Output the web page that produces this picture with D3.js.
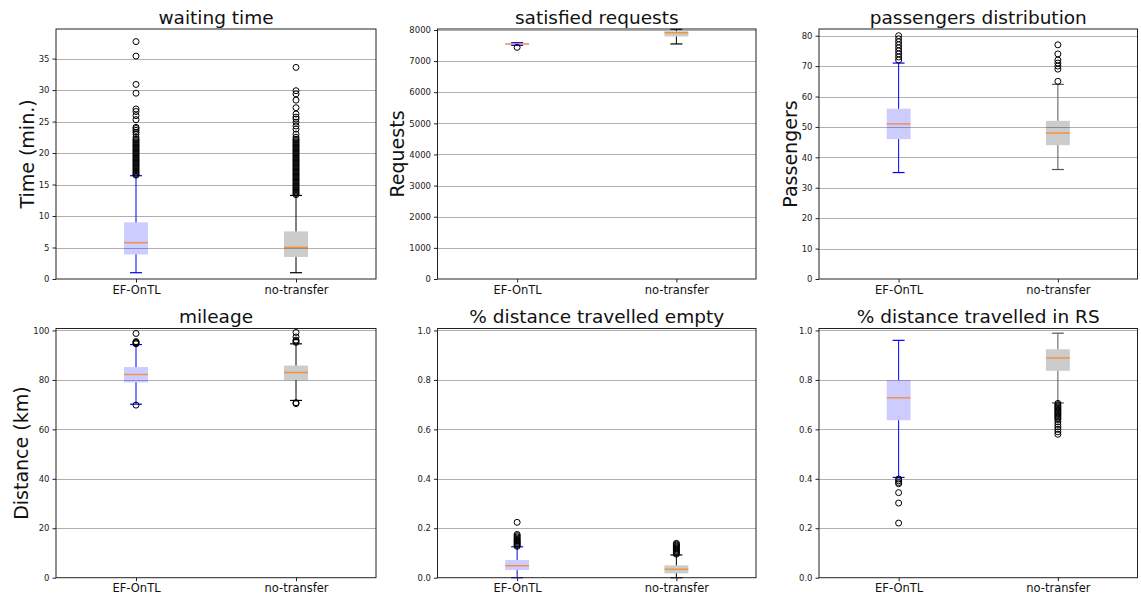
<!DOCTYPE html>
<html><head><meta charset="utf-8">
<script src="https://cdn.jsdelivr.net/npm/d3@7"></script>
<style>body{margin:0;background:#fff}svg{display:block;font-family:"DejaVu Sans",sans-serif}</style>
</head><body><svg id="c" width="1141" height="603"></svg>
<script>
const categories = ["EF-OnTL", "no-transfer"];
const titles = ["waiting time", "satisfied requests", "passengers distribution", "mileage", "% distance travelled empty", "% distance travelled in RS"];
const yLabels = ["Time (min.)", "Requests", "Passengers", "Distance (km)", "", ""];

// [whiskerLow, q1, median, q3, whiskerHigh]
const waitingEF = [1.0, 3.9, 5.77, 9.0, 16.4];
const waitingNT = [1.0, 3.5, 5.02, 7.56, 13.27];
const waitingEFOut = [16.5,16.6,16.8,17.0,17.2,17.4,17.6,17.8,18.0,18.2,18.4,18.6,18.8,19.0,19.2,19.4,19.6,19.8,20.0,20.2,20.4,20.6,20.8,21.0,21.2,21.4,21.6,21.8,22.0,22.2,22.5,23.0,23.3,23.6,23.9,24.1,25.3,25.95,26.6,27.0,29.5,30.9,35.4,37.7];
const waitingNTOut = [13.4,13.6,13.8,14.0,14.2,14.4,14.6,14.8,15.0,15.2,15.4,15.6,15.8,16.0,16.2,16.4,16.6,16.8,17.0,17.2,17.4,17.6,17.8,18.0,18.2,18.4,18.6,18.8,19.0,19.2,19.4,19.6,19.8,20.0,20.2,20.4,20.6,20.8,21.0,21.2,21.4,21.6,21.8,22.0,22.2,22.5,23.0,23.8,24.3,24.9,25.4,25.7,26.2,27.2,28.4,29.4,29.9,33.6];
const waitingTicks = [0,5,10,15,20,25,30,35];

const requestsEF = [7505, 7530, 7550, 7570, 7590];
const requestsNT = [7550, 7790, 7910, 7960, 8020];
const requestsEFOut = [7440];
const requestsNTOut = [];
const requestsTicks = [0,1000,2000,3000,4000,5000,6000,7000,8000];

const passengersEF = [35, 46, 51, 56, 71];
const passengersNT = [36, 44, 48, 52, 64];
const passengersEFOut = [72,73,74,75,76,77,78,79,80];
const passengersNTOut = [65,69,70,71,72,74,77];
const passengersTicks = [0,10,20,30,40,50,60,70,80];

const mileageEF = [70.2, 79.0, 82.2, 85.2, 94.3];
const mileageNT = [71.7, 79.9, 83.0, 85.8, 94.6];
const mileageEFOut = [69.8, 94.6, 94.9, 95.2, 95.5, 98.8];
const mileageNTOut = [70.4, 70.8, 95.2, 95.6, 96.1, 97.4, 99.2];
const mileageTicks = [0,20,40,60,80,100];

const emptyEF = [0.0, 0.031, 0.0485, 0.0714, 0.125];
const emptyNT = [0.0, 0.0175, 0.034, 0.05, 0.092];
const emptyEFOut = [0.127,0.131,0.135,0.139,0.143,0.147,0.151,0.155,0.160,0.165,0.170,0.175,0.224];
const emptyNTOut = [0.095,0.099,0.103,0.107,0.111,0.115,0.119,0.123,0.127,0.131,0.135,0.139];
const fracTicks = [0,0.2,0.4,0.6,0.8,1.0];

const rsEF = [0.4056, 0.637, 0.7276, 0.799, 0.96];
const rsNT = [0.707, 0.837, 0.889, 0.924, 0.989];
const rsEFOut = [0.399, 0.392, 0.385, 0.38, 0.344, 0.302, 0.221];
const rsNTOut = [0.705,0.70,0.695,0.69,0.685,0.68,0.675,0.67,0.665,0.66,0.655,0.65,0.645,0.64,0.63,0.62,0.61,0.60,0.59,0.58];

const panels = [
  {stats:[waitingEF, waitingNT], out:[waitingEFOut, waitingNTOut], ticks:waitingTicks, ymax:39.7, fmt:d3.format("d"), ntWhisker:"#000"},
  {stats:[requestsEF, requestsNT], out:[requestsEFOut, requestsNTOut], ticks:requestsTicks, ymax:8030, fmt:d3.format("d"), ntWhisker:"#000"},
  {stats:[passengersEF, passengersNT], out:[passengersEFOut, passengersNTOut], ticks:passengersTicks, ymax:82.2, fmt:d3.format("d"), ntWhisker:"#555"},
  {stats:[mileageEF, mileageNT], out:[mileageEFOut, mileageNTOut], ticks:mileageTicks, ymax:100.8, fmt:d3.format("d"), ntWhisker:"#000"},
  {stats:[emptyEF, emptyNT], out:[emptyEFOut, emptyNTOut], ticks:fracTicks, ymax:1.008, fmt:d3.format(".1f"), ntWhisker:"#000"},
  {stats:[rsEF, rsNT], out:[rsEFOut, rsNTOut], ticks:fracTicks, ymax:1.008, fmt:d3.format(".1f"), ntWhisker:"#555"}
];

const cols = [[56,376],[437.5,756],[819,1137.5]];
const rows = [[29,279],[328.5,577.7]];
const svg = d3.select("#c");

panels.forEach((p, i) => {
  const [x0, x1] = cols[i % 3];
  const [y0, y1] = rows[Math.floor(i / 3)];
  const g = svg.append("g");
  const x = d3.scalePoint().domain(categories).range([x0, x1]).padding(0.5);
  const y = d3.scaleLinear().domain([0, p.ymax]).range([y1, y0]);
  const bw = x.step() * 0.15;

  // grid
  g.selectAll(".grid").data(p.ticks.filter(t => t > 0)).enter().append("line")
    .attr("x1", x0).attr("x2", x1)
    .attr("y1", d => Math.round(y(d)) + 0.5).attr("y2", d => Math.round(y(d)) + 0.5)
    .attr("stroke", "#b0b0b0").attr("stroke-width", 1);

  categories.forEach((c, k) => {
    const s = p.stats[k];
    const cx = x(c);
    const wc = k === 0 ? "#0000ff" : p.ntWhisker;
    const bg = g.append("g");
    bg.append("rect").attr("x", cx - bw / 2).attr("width", bw)
      .attr("y", y(s[3])).attr("height", Math.max(1, y(s[1]) - y(s[3])))
      .attr("fill", k === 0 ? "#0000ff" : "#000").attr("fill-opacity", 0.2);
    bg.append("line").attr("x1", cx).attr("x2", cx).attr("y1", y(s[1])).attr("y2", y(s[0])).attr("stroke", wc);
    bg.append("line").attr("x1", cx).attr("x2", cx).attr("y1", y(s[3])).attr("y2", y(s[4])).attr("stroke", wc);
    [s[0], s[4]].forEach(v => {
      bg.append("line").attr("x1", cx - bw / 4).attr("x2", cx + bw / 4)
        .attr("y1", y(v)).attr("y2", y(v)).attr("stroke", wc).attr("stroke-width", 1.2);
    });
    bg.append("line").attr("x1", cx - bw / 2).attr("x2", cx + bw / 2)
      .attr("y1", y(s[2])).attr("y2", y(s[2]))
      .attr("stroke", "#ff7f0e").attr("stroke-opacity", 0.75).attr("stroke-width", 1.5);
    bg.selectAll("circle").data(p.out[k]).enter().append("circle")
      .attr("cx", cx).attr("cy", d => y(d)).attr("r", 3)
      .attr("fill", "none").attr("stroke", "#000").attr("stroke-width", 1);
  });

  // axes
  const ya = g.append("g").attr("transform", `translate(${x0},0)`)
    .call(d3.axisLeft(y).tickValues(p.ticks).tickFormat(p.fmt).tickSize(3.5).tickPadding(3));
  ya.select(".domain").remove();
  ya.selectAll("text").attr("font-size", 8.5).attr("fill", "#222").attr("font-family", "DejaVu Sans");
  ya.selectAll("line").attr("stroke", "#222");
  const xa = g.append("g").attr("transform", `translate(0,${y1})`)
    .call(d3.axisBottom(x).tickSize(3.5).tickPadding(3));
  xa.select(".domain").remove();
  xa.selectAll("text").attr("font-size", 11.5).attr("fill", "#111").attr("font-family", "DejaVu Sans");
  xa.selectAll("line").attr("stroke", "#222");

  // spines
  g.append("rect").attr("x", x0).attr("y", y0).attr("width", x1 - x0).attr("height", y1 - y0)
    .attr("fill", "none").attr("stroke", "#222").attr("stroke-width", 1);

  // title
  g.append("text").attr("x", (x0 + x1) / 2).attr("y", y0 - 5.5)
    .attr("text-anchor", "middle").attr("font-size", 18.5).attr("fill", "#111").text(titles[i]);

  // y label
  if (yLabels[i]) {
    let maxW = 0;
    ya.selectAll("text").each(function () { maxW = Math.max(maxW, this.getBBox().width); });
    const lx = x0 - 3.5 - 3 - maxW - 5;
    g.append("text").attr("transform", `translate(${lx},${(y0 + y1) / 2}) rotate(-90)`)
      .attr("text-anchor", "middle").attr("font-size", 19).attr("fill", "#111").text(yLabels[i]);
  }
});
</script></body></html>
